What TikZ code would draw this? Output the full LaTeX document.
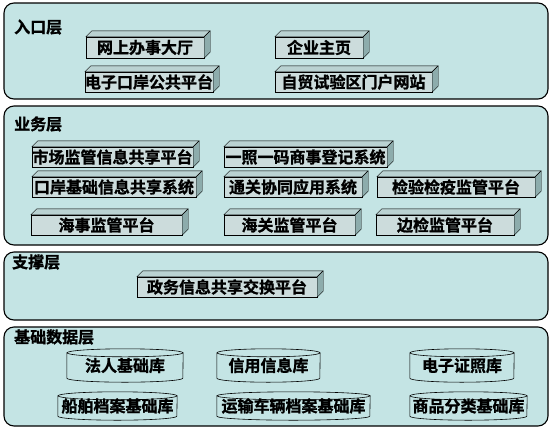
\documentclass[tikz,border=0pt]{standalone}
\usepackage{fontspec}
\newfontfamily\cjk{Noto Sans CJK SC}[BoldFont={Noto Sans CJK SC Bold}, BoldFeatures={FakeBold=1.2}]
\definecolor{panelcyan}{RGB}{196, 228, 228}
\definecolor{cubefrontc}{RGB}{204, 220, 220}
\definecolor{cubetopc}{RGB}{186, 210, 210}
\definecolor{cubesidec}{RGB}{141, 172, 172}
\usetikzlibrary{positioning}

\tikzset{
    layer/.style={draw, line width=1.1pt, rounded corners=10pt, fill=panelcyan},
    layertitle/.style={anchor=west, inner sep=0pt},
    cubefront/.style={draw, fill=cubefrontc, inner sep=0pt},
    cubeface/.style={draw, line join=round},
    dbtext/.style={inner sep=0pt},
    dbline/.style={draw, line width=0.6pt}
}

% 3D box: name, x1, y1, x2, y2, text
\newcommand{\cubebox}[6]{%
    \node[cubefront, minimum width={#4-#2}, minimum height={#5-#3}] (#1) at ({(#2+#4)/2},{(#3+#5)/2}) {#6};
    \filldraw[cubeface, fill=cubetopc] (#1.north west) -- ++(6,-6) -- ([shift={(6,-6)}]#1.north east) -- (#1.north east) -- cycle;
    \filldraw[cubeface, fill=cubesidec] (#1.north east) -- ++(6,-6) -- ([shift={(6,-6)}]#1.south east) -- (#1.south east) -- cycle;
}

% database cylinder: name, x1, y1, x2, y2, text
\newcommand{\dbcyl}[6]{%
    \node[dbtext, minimum width={#4-#2}, minimum height={#5-#3}] (#1) at ({(#2+#4)/2},{(#3+#5)/2}) {\raisebox{-2pt}{#6}};
    \pgfmathsetmacro\dbrx{(#4-#2)/2}
    \draw[dbline] ([yshift=-4pt]#1.north west) -- ([yshift=4pt]#1.south west)
        arc[start angle=180, end angle=360, x radius=\dbrx pt, y radius=4pt] -- ([yshift=-4pt]#1.north east);
    \draw[dbline] ([yshift=-4pt]#1.north) ellipse[x radius=\dbrx pt, y radius=4pt];
}

\begin{document}
\begin{tikzpicture}[x=1pt, y=-1pt, every node/.style={font=\cjk\bfseries\fontsize{16}{18}\selectfont}]
    \useasboundingbox (0,0) rectangle (554,437);

    % Layers
    \draw[layer] (4,3) rectangle (548,99);
    \draw[layer] (4,106) rectangle (548,245);
    \draw[layer] (4,252) rectangle (548,320);
    \draw[layer] (4,327) rectangle (548,426);

    \node[layertitle] (entry) at (14,27) {入口层};
    \node[layertitle] (business) at (14,124) {业务层};
    \node[layertitle] (support) at (12,262) {支撑层};
    \node[layertitle] (data) at (14,337) {基础数据层};

    % Entry layer
    \cubebox{hall}{86}{37}{204}{58}{网上办事大厅}
    \cubebox{home}{275}{37}{363}{58}{企业主页}
    \cubebox{port}{86}{72}{212}{92}{电子口岸公共平台}
    \cubebox{ftz}{275}{72}{432}{92}{自贸试验区门户网站}

    % Business layer
    \cubebox{market}{32}{147}{193}{167}{市场监管信息共享平台}
    \cubebox{license}{224}{147}{387}{167}{一照一码商事登记系统}
    \cubebox{portinfo}{32}{177}{196}{197}{口岸基础信息共享系统}
    \cubebox{clear}{224}{177}{362}{197}{通关协同应用系统}
    \cubebox{quar}{377}{177}{535}{197}{检验检疫监管平台}
    \cubebox{marit}{31}{215}{182}{235}{海事监管平台}
    \cubebox{custom}{224}{215}{355}{235}{海关监管平台}
    \cubebox{border}{376}{215}{514}{235}{边检监管平台}

    % Support layer
    \cubebox{exch}{137}{277}{317}{297}{政务信息共享交换平台}

    % Data layer
    \dbcyl{legal}{67}{349}{183}{382}{法人基础库}
    \dbcyl{credit}{217}{349}{320}{382}{信用信息库}
    \dbcyl{cert}{410}{349}{514}{382}{电子证照库}
    \dbcyl{ship}{58}{392}{177}{420}{船舶档案基础库}
    \dbcyl{vehicle}{217}{392}{370}{420}{运输车辆档案基础库}
    \dbcyl{goods}{410}{392}{527}{420}{商品分类基础库}
\end{tikzpicture}
\end{document}
